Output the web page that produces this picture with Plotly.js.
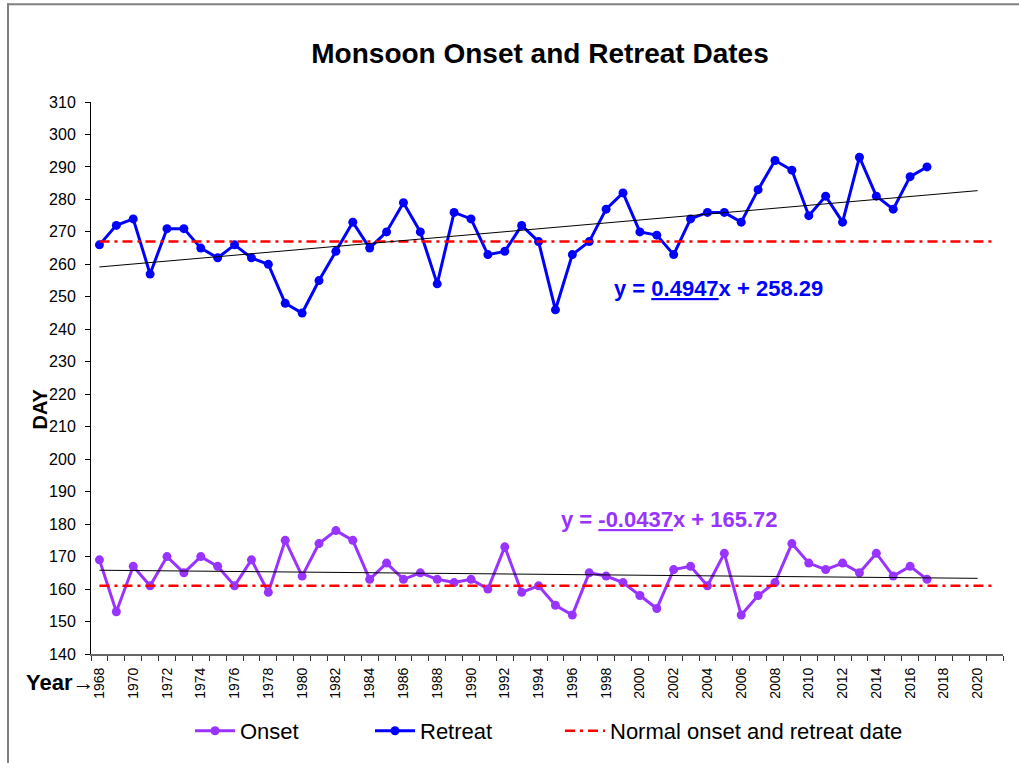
<!DOCTYPE html>
<html>
<head>
<meta charset="utf-8">
<script src="https://cdn.plot.ly/plotly-3.0.1.min.js"></script>
<style>
html,body{margin:0;padding:0;background:#fff;}
#chart{width:1019px;height:763px;}
</style>
</head>
<body>
<div id="chart"></div>
<script>
// ---- data ----
const years = [1968,1969,1970,1971,1972,1973,1974,1975,1976,1977,
               1978,1979,1980,1981,1982,1983,1984,1985,1986,1987,
               1988,1989,1990,1991,1992,1993,1994,1995,1996,1997,
               1998,1999,2000,2001,2002,2003,2004,2005,2006,2007,
               2008,2009,2010,2011,2012,2013,2014,2015,2016,2017];
const onset = [169,153,167,161,170,165,170,167,161,169,
               159,175,164,174,178,175,163,168,163,165,
               163,162,163,160,173,159,161,155,152,165,
               164,162,158,154,166,167,161,171,152,158,
               162,174,168,166,168,165,171,164,167,163];
const retreat = [266,272,274,257,271,271,265,262,266,262,
                 260,248,245,255,264,273,265,270,279,270,
                 254,276,274,263,264,272,267,246,263,267,
                 277,282,270,269,263,274,276,276,273,283,
                 292,289,275,281,273,293,281,277,287,290];
const trendYears = [1968, 2020];
const onsetTrend = [165.8, 163.3];
const retreatTrend = [259.2, 282.7];
const normalYears = [1968, 2021];
const normalOnset = [161, 161];
const normalRetreat = [267, 267];
const tickYears = [1968,1970,1972,1974,1976,1978,1980,1982,1984,1986,1988,1990,1992,1994,
                   1996,1998,2000,2002,2004,2006,2008,2010,2012,2014,2016,2018,2020];
const onsetEq = "y = <u>-0.0437</u>x + 165.72";
const retreatEq = "y = <u>0.4947</u>x + 258.29";

const FONT = "Liberation Sans, Arial, sans-serif";
const purple = "#9933FF", blue = "#0000FF", red = "#FF0000";
const DASH = "10px,5px,3px,5px";

// pixel -> paper helpers (plot area: x 91..1003, y 102..655)
const px = v => (v - 91) / 912;
const py = v => (655 - v) / 553;

const traces = [
  {x: years, y: onset, name: "Onset", type: "scatter", mode: "lines+markers", legend: "legend",
   line: {color: purple, width: 3}, marker: {color: purple, size: 9}},
  {x: years, y: retreat, name: "Retreat", type: "scatter", mode: "lines+markers", legend: "legend2",
   line: {color: blue, width: 3}, marker: {color: blue, size: 9}},
  {x: normalYears, y: normalOnset, name: "Normal onset and retreat date", legendgroup: "n", legend: "legend3",
   type: "scatter", mode: "lines", line: {color: red, width: 2.5, dash: DASH}},
  {x: normalYears, y: normalRetreat, name: "Normal onset and retreat date", legendgroup: "n", showlegend: false,
   legend: "legend3", type: "scatter", mode: "lines", line: {color: red, width: 2.5, dash: DASH}},
  {x: trendYears, y: onsetTrend, type: "scatter", mode: "lines", showlegend: false,
   line: {color: "#000", width: 1}},
  {x: trendYears, y: retreatTrend, type: "scatter", mode: "lines", showlegend: false,
   line: {color: "#000", width: 1}}
];

const legFont = {size: 22, family: FONT, color: "#000"};
const legBase = {orientation: "h", xanchor: "left", y: py(731), yanchor: "middle",
                 font: legFont, bgcolor: "rgba(0,0,0,0)", itemwidth: 40};

const layout = {
  width: 1019, height: 763,
  margin: {l: 91, r: 16, t: 102, b: 108},
  paper_bgcolor: "#fff", plot_bgcolor: "#fff",
  font: {family: FONT, color: "#000"},
  title: {text: "<b>Monsoon Onset and Retreat Dates</b>", font: {size: 28, family: FONT, color: "#000"},
          xref: "container", yref: "container", x: 540/1019, xanchor: "center",
          y: 1 - 53/763, yanchor: "middle"},
  showlegend: true,
  legend: Object.assign({}, legBase, {x: px(190)}),
  legend2: Object.assign({}, legBase, {x: px(370)}),
  legend3: Object.assign({}, legBase, {x: px(560)}),
  xaxis: {range: [1967.5, 2021.5], tickmode: "array", tickvals: tickYears, ticktext: tickYears.map(String),
          tickangle: -90, ticks: "", showgrid: false, zeroline: false, showline: true,
          linecolor: "#666", linewidth: 2, tickfont: {size: 14, family: FONT, color: "#000"},
          ticklabelstandoff: 6,
          minor: {tickmode: "linear", tick0: 1967.5, dtick: 1, ticks: "outside", ticklen: 5,
                  tickcolor: "#333", tickwidth: 1, showgrid: false}},
  yaxis: {range: [140, 310], dtick: 10, tick0: 140, ticks: "outside", ticklen: 5, tickcolor: "#000",
          showgrid: false, zeroline: false, showline: true, linecolor: "#000", linewidth: 1,
          ticklabelstandoff: 6,
          tickfont: {size: 16, family: FONT, color: "#000"}},
  annotations: [
    {text: "<b>DAY</b>", xref: "paper", yref: "paper", x: px(40), xanchor: "center", y: py(410), yanchor: "middle",
     textangle: -90, showarrow: false, font: {size: 20, family: FONT, color: "#000"}},
    {text: "<b>Year</b>→", xref: "paper", yref: "paper", x: px(97), xanchor: "right",
     y: py(684), yanchor: "middle", showarrow: false, font: {size: 22, family: FONT, color: "#000"}},
    {text: "<b>" + retreatEq + "</b>", xref: "paper", yref: "paper", x: px(612), xanchor: "left",
     y: py(289), yanchor: "middle", showarrow: false, font: {size: 22, family: FONT, color: blue}},
    {text: "<b>" + onsetEq + "</b>", xref: "paper", yref: "paper", x: px(559), xanchor: "left",
     y: py(520), yanchor: "middle", showarrow: false, font: {size: 22, family: FONT, color: purple}}
  ],
  shapes: [
    {type: "line", xref: "paper", yref: "paper", x0: px(8), x1: px(8),
     y0: py(3), y1: py(770), line: {color: "#808080", width: 2}},
    {type: "line", xref: "paper", yref: "paper", x0: px(7), x1: px(1030),
     y0: py(4), y1: py(4), line: {color: "#808080", width: 2}}
  ]
};

Plotly.newPlot("chart", traces, layout, {displayModeBar: false, staticPlot: true});
</script>
</body>
</html>
